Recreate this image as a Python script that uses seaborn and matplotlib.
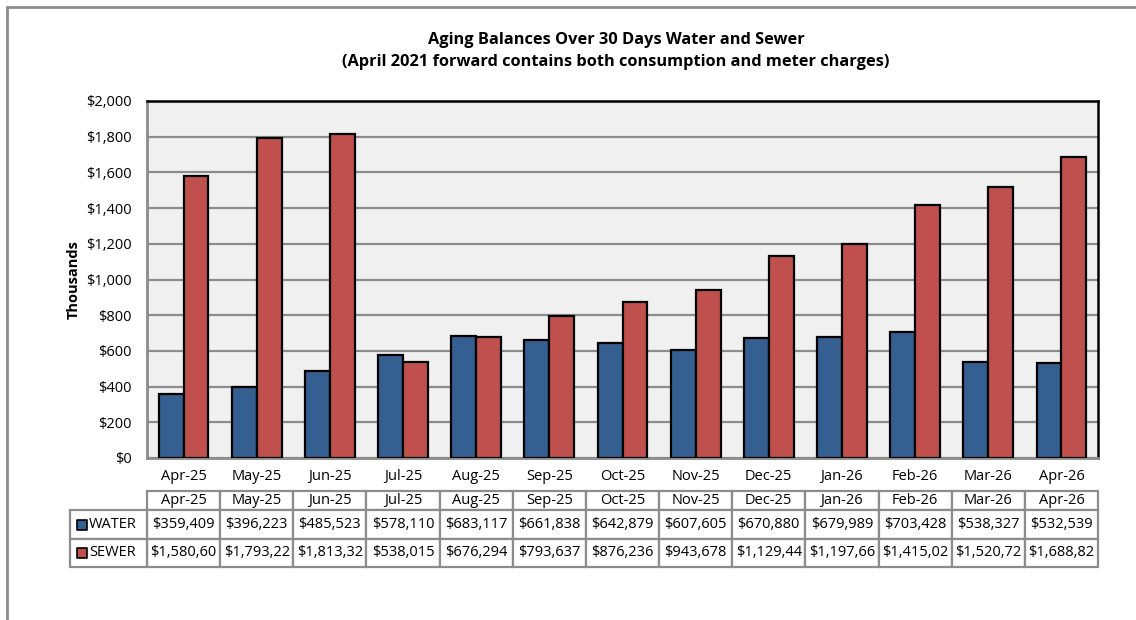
import numpy as np
import pandas as pd
import matplotlib
matplotlib.use("Agg")
import matplotlib.pyplot as plt
import matplotlib.transforms as mtransforms
from matplotlib.patches import Rectangle
import seaborn as sns

# data
months = ["Apr-25", "May-25", "Jun-25", "Jul-25", "Aug-25", "Sep-25", "Oct-25",
          "Nov-25", "Dec-25", "Jan-26", "Feb-26", "Mar-26", "Apr-26"]
water = [359409, 396223, 485523, 578110, 683117, 661838, 642879,
         607605, 670880, 679989, 703428, 538327, 532539]
sewer = [1580600, 1793220, 1813320, 538015, 676294, 793637, 876236,
         943678, 1129440, 1197660, 1415020, 1520720, 1688820]
series = ["WATER", "SEWER"]
colors = ["#355F91", "#C0504D"]

df = pd.DataFrame({
    "month": months * 2,
    "value": np.array(water + sewer) / 1000,
    "series": [series[0]] * len(months) + [series[1]] * len(months),
})

sns.set_style("white")
plt.rcParams['font.family'] = ['Open Sans', 'DejaVu Sans']
plt.rcParams.update({"text.color": "black", "xtick.color": "black",
                     "ytick.color": "black", "axes.labelcolor": "black"})
fs = 10.5

W, H = 1136, 620
fig = plt.figure(figsize=(W / 100, H / 100), dpi=100)
ax = fig.add_axes([147 / W, 1 - 458 / H, 951 / W, 357 / H])

# outer chart border (only top and left visible)
fig.patches.append(Rectangle((7 / W, -0.1), 1.2, 1 - 7 / H + 0.1, transform=fig.transFigure,
                             fill=False, edgecolor="#8c8c8c", linewidth=2))

ax.set_facecolor("#F0F0F0")
sns.barplot(data=df, x="month", y="value", hue="series", palette=colors,
            width=0.68, edgecolor="black", linewidth=1.6, saturation=1,
            legend=False, ax=ax, zorder=3)

ax.set_ylim(0, 2000)
ax.set_yticks(np.arange(0, 2001, 200))
ax.set_yticklabels(["${:,.0f}".format(v) for v in np.arange(0, 2001, 200)], fontsize=fs)
ax.set_xlim(-0.5, len(months) - 0.5)
ax.tick_params(axis="x", length=0, pad=8)
ax.tick_params(axis="y", length=0, pad=11)
ax.set_xticklabels(months, fontsize=fs)
ax.set_xlabel("")
ax.set_ylabel("Thousands", fontsize=fs, fontweight="bold", labelpad=4)
ax.yaxis.grid(True, color="#8c8c8c", linewidth=1.6)
ax.set_axisbelow(True)

for s in ["top", "right"]:
    ax.spines[s].set_color("black")
    ax.spines[s].set_linewidth(1.8)
for s in ["left", "bottom"]:
    ax.spines[s].set_color("#8c8c8c")
    ax.spines[s].set_linewidth(2)

fig.text(616 / W, 1 - 40 / H, "Aging Balances Over 30 Days Water and Sewer",
         ha="center", va="center", fontsize=11.8, fontweight="bold")
fig.text(616 / W, 1 - 62 / H, "(April 2021 forward contains both consumption and meter charges)",
         ha="center", va="center", fontsize=11.8, fontweight="bold")

# data table under the chart
trans = mtransforms.blended_transform_factory(ax.transData, ax.transAxes)
def ay(py):
    return (458 - py) / 357

rows = [ay(491), ay(510), ay(539), ay(567)]
edge = "#8c8c8c"

def cell(x0, x1, y0, y1):
    ax.add_patch(Rectangle((x0, y1), x1 - x0, y0 - y1, transform=trans, clip_on=False,
                           facecolor="white", edgecolor=edge, linewidth=1.6, zorder=5))

def fmt(v):
    return "${:,.0f}".format(v)[:9]

for i, m in enumerate(months):
    cell(i - 0.5, i + 0.5, rows[0], rows[1])
    ax.text(i, (rows[0] + rows[1]) / 2, m, transform=trans, ha="center", va="center",
            fontsize=fs, zorder=6, clip_on=False)
    for r, vals in enumerate([water, sewer]):
        cell(i - 0.5, i + 0.5, rows[r + 1], rows[r + 2])
        ax.text(i, (rows[r + 1] + rows[r + 2]) / 2, fmt(vals[i]), transform=trans,
                ha="center", va="center", fontsize=fs, zorder=6, clip_on=False)

lab_x0 = -0.5 - 77 / (951 / len(months))
for r, name in enumerate(series):
    cell(lab_x0, -0.5, rows[r + 1], rows[r + 2])
    yc = (rows[r + 1] + rows[r + 2]) / 2
    ax.scatter([lab_x0 + 0.16], [yc], transform=trans, marker="s", s=55,
               color=colors[r], edgecolor="black", linewidth=1.2, zorder=7, clip_on=False)
    ax.text(lab_x0 + 0.26, yc, name, transform=trans, ha="left", va="center",
            fontsize=fs, zorder=6, clip_on=False)

fig.savefig("out.png", dpi=100)
